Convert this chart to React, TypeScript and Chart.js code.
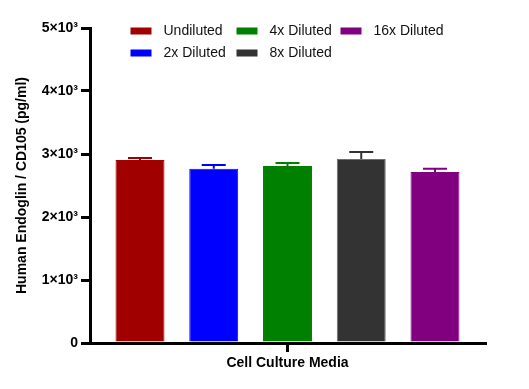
import React, { useEffect, useRef } from "react";
import { Chart, registerables } from "chart.js";

Chart.register(...registerables);

const categories = ["Cell Culture Media"];
const seriesNames = ["Undiluted", "2x Diluted", "4x Diluted", "8x Diluted", "16x Diluted"];
const seriesMeans = [2905, 2767, 2810, 2921, 2714];
const seriesErrors = [33, 58, 47, 111, 53];
const seriesColors = ["#a00000", "#0000ff", "#008000", "#333333", "#800080"];
const seriesBorders = ["#a00000", "#0000ff", "#008000", "#6e6e6e", "#800080"];
const yTicks = [0, 1000, 2000, 3000, 4000, 5000];
const yTickLabels = ["0", "1×10³", "2×10³", "3×10³", "4×10³", "5×10³"];
const legendOrder = [0, 2, 4, 1, 3];

const errorBarPlugin = {
  id: "errorBars",
  afterDatasetsDraw(chart: any) {
    const ctx = chart.ctx;
    const yScale = chart.scales.y;
    chart.data.datasets.forEach((ds: any, i: number) => {
      const meta = chart.getDatasetMeta(i);
      meta.data.forEach((el: any, j: number) => {
        const v = ds.data[j];
        const e = seriesErrors[i];
        const x = el.x;
        const yTop = yScale.getPixelForValue(v);
        const yErr = yScale.getPixelForValue(v + e);
        ctx.save();
        ctx.strokeStyle = seriesColors[i];
        ctx.lineWidth = 2;
        ctx.beginPath();
        ctx.moveTo(x, yTop);
        ctx.lineTo(x, yErr);
        ctx.moveTo(x - 12, yErr);
        ctx.lineTo(x + 12, yErr);
        ctx.stroke();
        ctx.restore();
      });
    });
  },
};

const legendPlugin = {
  id: "customLegend",
  afterDraw(chart: any) {
    const ctx = chart.ctx;
    const area = chart.chartArea;
    const cx = (area.left + area.right) / 2;
    const colX = [cx - 157, cx - 51, cx + 53];
    const rowY = [31, 53];
    ctx.save();
    ctx.font = "14px 'Liberation Sans', Arial, sans-serif";
    ctx.textBaseline = "middle";
    ctx.textAlign = "left";
    legendOrder.forEach((di, k) => {
      const col = Math.floor(k / 2) + 0;
      const c = k < 3 ? k : k - 3;
      const r = k < 3 ? 0 : 1;
      const x = colX[c];
      const y = rowY[r];
      ctx.fillStyle = seriesColors[di];
      ctx.fillRect(x, y - 3.5, 21, 7);
      ctx.fillStyle = "#111";
      ctx.fillText(seriesNames[di], x + 33, y + 0.5);
      void col;
    });
    ctx.restore();
  },
};

export default function App() {
  const ref = useRef<HTMLCanvasElement | null>(null);
  useEffect(() => {
    document.body.style.margin = "0";
    const chart = new Chart(ref.current as HTMLCanvasElement, {
      type: "bar",
      data: {
        labels: categories,
        datasets: seriesNames.map((name, i) => ({
          label: name,
          data: [seriesMeans[i]],
          backgroundColor: seriesColors[i],
          borderColor: seriesBorders[i],
          borderWidth: 1,
          categoryPercentage: 0.9335,
          barPercentage: 0.664,
        })),
      },
      options: {
        animation: false,
        responsive: false,
        maintainAspectRatio: false,
        layout: { padding: { left: 0, top: 28, right: 44, bottom: 0 } },
        plugins: {
          legend: { display: false },
          tooltip: { enabled: false },
        },
        scales: {
          x: {
            offset: true,
            grid: {
              offset: false,
              drawOnChartArea: false,
              tickLength: 9,
              lineWidth: 3,
              color: "#000",
            },
            border: { display: true, width: 3, color: "#000" },
            ticks: {
              color: "#000",
              padding: 3,
              font: { family: "'Liberation Sans', Arial, sans-serif", size: 14, weight: "bold" },
            },
            afterFit(scale: any) {
              scale.height = 46;
            },
          },
          y: {
            min: 0,
            max: 5000,
            afterBuildTicks(scale: any) {
              scale.ticks = yTicks.map((v) => ({ value: v }));
            },
            grid: {
              drawOnChartArea: false,
              tickLength: 9,
              lineWidth: 3,
              color: "#000",
            },
            border: { display: true, width: 3, color: "#000" },
            ticks: {
              color: "#000",
              padding: 3,
              font: { family: "'Liberation Sans', Arial, sans-serif", size: 14, weight: "bold" },
              callback: (v: any) => {
                const idx = yTicks.indexOf(Number(v));
                return idx >= 0 ? yTickLabels[idx] : "";
              },
            },
            title: {
              display: true,
              text: "Human Endoglin / CD105 (pg/ml)",
              color: "#000",
              padding: { top: 14, bottom: 0 },
              font: { family: "'Liberation Sans', Arial, sans-serif", size: 14, weight: "bold" },
            },
            afterFit(scale: any) {
              scale.width = 90;
            },
          },
        },
      },
      plugins: [errorBarPlugin, legendPlugin],
    } as any);
    return () => chart.destroy();
  }, []);
  return (
    <div style={{ position: "absolute", left: 0, top: 0, width: 529, height: 389, background: "#fff" }}>
      <canvas ref={ref} width={529} height={389} style={{ width: 529, height: 389 }} />
    </div>
  );
}
